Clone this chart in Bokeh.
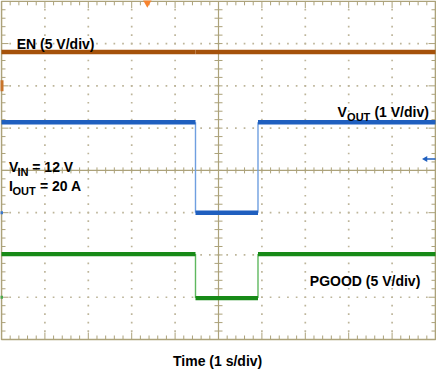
import numpy as np
from bokeh.plotting import figure
from bokeh.models import Range1d
from bokeh.core.properties import value
from bokeh.embed import file_html
from bokeh.resources import INLINE

# ---------------- data (scope divisions; 1 s/div horizontally) ----------------
time_breaks = [0.0, 4.47, 5.91, 10.0]
en_levels = [6.80, 6.80, 6.80]
vout_levels = [5.14, 3.00, 5.14]
pgood_levels = [2.02, 0.98, 2.02]

channel_grounds = [6.0, 3.0, 1.0]        # EN, VOUT, PGOOD ground markers
trigger_time = [3.36]
vout_marker_level = [4.27]

x_divs = 10
y_divs = 8

# ---------------- layout ----------------
W, H = 436, 369
GX0, GX1 = 1.0, 435.0           # canvas px of graticule left / right
GY0, GY1 = 0.8, 339.0           # canvas px of graticule top / bottom
SX = (GX1 - GX0) / x_divs
SY = (GY1 - GY0) / y_divs

p = figure(width=W, height=H,
           x_range=Range1d(-GX0 / SX, x_divs + (W - GX1) / SX),
           y_range=Range1d(-(H - GY1) / SY, y_divs + GY0 / SY),
           x_axis_type=None, y_axis_type=None,
           output_backend="svg", toolbar_location=None, tools="",
           min_border=0, title=None)
p.outline_line_color = None
p.background_fill_color = "white"
p.border_fill_color = "white"

GRID = "#bdb59a"
FRAME = "#aca27a"
step = 0.2
xs_minor = np.round(np.arange(0, x_divs + 1e-9, step), 4)
ys_minor = np.round(np.arange(0, y_divs + 1e-9, step), 4)
cx, cy = x_divs / 2, y_divs / 2


def is_major(v):
    return abs(v - round(v)) < 1e-6


# dotted grid
gx_pts, gy_pts = [], []
for gx in range(1, x_divs):
    if gx == cx:
        continue
    for yy in ys_minor[1:-1]:
        gx_pts.append(gx); gy_pts.append(yy)
for gy in range(1, y_divs):
    if gy == cy:
        continue
    for xx in xs_minor[1:-1]:
        gx_pts.append(xx); gy_pts.append(gy)
p.scatter(gx_pts, gy_pts, marker="square", size=1.7, fill_color=GRID, line_color=None)

# edge ticks
tx0, tx1, ty0, ty1 = [], [], [], []
for xx in xs_minor[1:-1]:
    L = 7 if is_major(xx) else 4
    tx0 += [xx, xx]; tx1 += [xx, xx]
    ty0 += [0, y_divs]; ty1 += [L / SY, y_divs - L / SY]
for yy in ys_minor[1:-1]:
    L = 7 if is_major(yy) else 4
    tx0 += [0, x_divs]; tx1 += [L / SX, x_divs - L / SX]
    ty0 += [yy, yy]; ty1 += [yy, yy]
# centre-line ticks
for xx in xs_minor[1:-1]:
    tx0.append(xx); tx1.append(xx); ty0.append(cy - 3 / SY); ty1.append(cy + 3 / SY)
for yy in ys_minor[1:-1]:
    tx0.append(cx - 4 / SX); tx1.append(cx + 4 / SX); ty0.append(yy); ty1.append(yy)
p.segment(tx0, ty0, tx1, ty1, line_color=FRAME, line_width=1)

# centre lines
p.segment([cx, 0], [0, cy], [cx, x_divs], [y_divs, cy], line_color=FRAME, line_width=1.2)
# frame
p.quad(left=[0], right=[x_divs], bottom=[0], top=[y_divs],
       fill_color=None, line_color=FRAME, line_width=1.6)

# ---------------- traces ----------------
def trace(levels, color, edge_color, width):
    x0 = time_breaks[:-1]
    x1 = time_breaks[1:]
    ex = time_breaks[1:-1]
    p.segment(ex, levels[:-1], ex, levels[1:], line_color=edge_color, line_width=1.4)
    p.segment(x0, levels, x1, levels, line_color=color, line_width=width)


trace(en_levels, "#a5520b", "#c07a3a", 4.5)
trace(vout_levels, "#1f5fbf", "#6f9fe0", 4.5)
trace(pgood_levels, "#178a17", "#5fb85f", 4.2)

# channel markers
p.rect(x=[0], y=[channel_grounds[0]], width=4, height=11, width_units="screen",
       height_units="screen", fill_color="#c8742a", line_color=None)
p.rect(x=[0], y=[channel_grounds[1]], width=3, height=3, width_units="screen",
       height_units="screen", fill_color="#3b76c8", line_color=None)
p.rect(x=[0], y=[channel_grounds[2]], width=3, height=3, width_units="screen",
       height_units="screen", fill_color="#4aa84a", line_color=None)
p.scatter(trigger_time, [y_divs], marker="inverted_triangle", size=11,
          fill_color="#f7832e", line_color=None)
p.segment([x_divs - 11 / SX], vout_marker_level, [x_divs], vout_marker_level,
          line_color="#1f5fbf", line_width=1.5)
p.scatter([x_divs - 10 / SX], vout_marker_level, marker="triangle", angle=np.pi / 2,
          size=6, fill_color="#1f5fbf", line_color=None)

# ---------------- texts ----------------
FONT = value("Liberation Sans")
BIG = "14px"
SMALL = "11px"


def txt(x, y, s, size=BIG, align="left", dx=0.0, dy=0.0):
    p.text(x=[x + dx / SX], y=[y - dy / SY], text=[s], text_font=FONT,
           text_font_style="bold", text_font_size=size, text_align=align,
           text_baseline="alphabetic", text_color="#000000")


txt(0.35, 7.00, "EN (5 V/div)")

txt(7.74, 5.38, "V")
txt(7.74, 5.38, "OUT", size=SMALL, dx=9.7, dy=4.5)
txt(7.74, 5.38, "(1 V/div)", dx=37)

txt(0.17, 4.08, "V")
txt(0.17, 4.08, "IN", size=SMALL, dx=8.6, dy=4.5)
txt(0.17, 4.08, "= 12 V", dx=23.4)

txt(0.17, 3.63, "I")
txt(0.17, 3.63, "OUT", size=SMALL, dx=3.6, dy=5)
txt(0.17, 3.63, "= 20 A", dx=31)

txt(9.65, 1.39, "PGOOD (5 V/div)", align="right")

txt(4.98, -0.52, "Time (1 s/div)", align="center")

open("out.html", "w").write(file_html(p, INLINE))
